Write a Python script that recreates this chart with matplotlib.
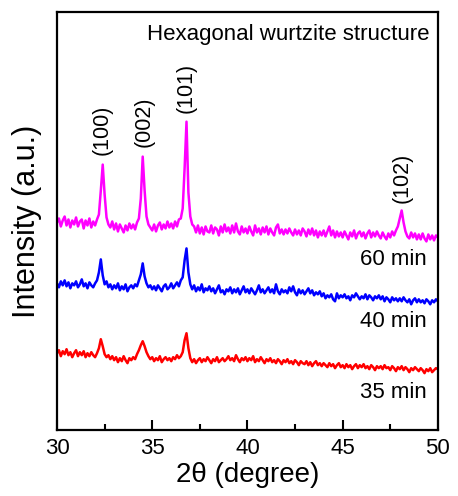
import numpy as np
import matplotlib
matplotlib.use("Agg")
import matplotlib.pyplot as plt
from matplotlib.ticker import MultipleLocator

plt.rcParams['font.family'] = ['Liberation Sans', 'DejaVu Sans']

two_theta = np.linspace(30, 50, 201)

int_60 = [
    208, 212, 204, 210, 214, 205, 211, 203, 210, 206,
    213, 204, 209, 211, 202, 210, 205, 212, 203, 209,
    205, 211, 216, 240, 266, 236, 213, 206, 203, 209,
    201, 207, 199, 206, 202, 198, 205, 200, 207, 202,
    206, 201, 208, 212, 232, 274, 240, 214, 206, 203,
    200, 206, 199, 205, 208, 201, 206, 202, 209, 203,
    207, 202, 209, 204, 211, 212, 222, 262, 309, 238,
    214, 206, 204, 198, 205, 197, 203, 196, 204, 199,
    198, 205, 197, 203, 201, 195, 204, 198, 206, 199,
    203, 197, 205, 198, 207, 199, 196, 204, 198, 202,
    197, 204, 199, 195, 205, 198, 202, 196, 203, 198,
    204, 196, 202, 198, 195, 203, 206, 197, 201, 196,
    201, 197, 202, 198, 195, 201, 196, 200, 195, 202,
    199, 194, 201, 196, 202, 195, 200, 193, 199, 195,
    200, 194, 199, 204, 195, 200, 193, 199, 194, 198,
    193, 199, 195, 191, 198, 194, 200, 192, 197, 199,
    194, 198, 192, 197, 200, 193, 198, 194, 199, 195,
    192, 198, 194, 191, 197, 193, 199, 195, 200, 204,
    212, 220, 208, 199, 194, 192, 198, 193, 197, 191,
    196, 191, 197, 192, 189, 196, 191, 195, 190, 195,
    193,
]

int_40 = [
    147, 143, 149, 145, 150, 144, 148, 142, 147, 145,
    149, 143, 146, 151, 144, 147, 142, 148, 145, 143,
    147, 150, 158, 171, 155, 146, 149, 143, 146, 141,
    145, 142, 147, 140, 144, 141, 146, 139, 143, 145,
    142, 146, 144, 150, 156, 167, 154, 147, 143, 145,
    141, 144, 140, 145, 142, 139, 144, 146, 141, 143,
    147, 142, 145, 148, 144, 150, 153, 170, 182, 158,
    146, 141, 145, 139, 143, 140, 146, 138, 142, 140,
    144, 139, 142, 137, 141, 145, 138, 140, 136, 141,
    139, 143, 137, 141, 138, 142, 136, 140, 144, 138,
    141, 137, 142, 139, 136, 140, 145, 138, 141, 137,
    140, 143, 138, 141, 137, 146, 139, 136, 141, 138,
    140, 137, 143, 139, 144, 138, 135, 141, 137, 140,
    136, 139, 142, 137, 140, 135, 138, 136, 139, 134,
    137, 132, 135, 133, 136, 131, 129, 137, 132, 135,
    133, 136, 132, 134, 130, 135, 133, 137, 134, 131,
    134, 132, 136, 131, 135, 133, 130, 134, 132, 135,
    131, 134, 129, 133, 131, 128, 133, 130, 132, 129,
    132, 129, 133, 130, 128, 131, 126, 130, 132, 128,
    131, 128, 130, 127, 131, 129, 126, 130, 128, 131,
    129,
]

int_35 = [
    77, 80, 74, 79, 76, 81, 75, 78, 73, 77,
    80, 74, 78, 75, 79, 73, 77, 74, 78, 75,
    73, 77, 82, 91, 84, 76, 73, 75, 71, 74,
    70, 73, 68, 72, 69, 74, 70, 67, 72, 70,
    73, 71, 76, 80, 85, 89, 84, 78, 74, 71,
    73, 69, 72, 70, 74, 68, 71, 73, 70, 72,
    69, 73, 71, 75, 72, 74, 78, 90, 97, 82,
    72, 68, 71, 67, 70, 72, 68, 71, 69, 73,
    70, 67, 71, 69, 73, 68, 70, 72, 69, 71,
    74, 70, 72, 69, 75, 71, 68, 72, 70, 73,
    69, 72, 70, 74, 68, 71, 69, 73, 70, 67,
    71, 69, 72, 68, 70, 67, 71, 69, 66, 70,
    68, 71, 67, 69, 66, 70, 68, 65, 69, 67,
    66, 69, 65, 68, 64, 67, 69, 65, 67, 64,
    67, 65, 63, 67, 64, 66, 62, 65, 67, 63,
    65, 62, 66, 63, 65, 61, 64, 66, 62, 65,
    63, 66, 62, 64, 61, 65, 63, 60, 64, 62,
    64, 61, 65, 62, 63, 60, 64, 62, 59, 63,
    61, 64, 60, 63, 61, 58, 62, 60, 63, 61,
    59, 62, 60, 57, 61, 59, 62, 58, 60, 62,
    61,
]

peak_labels = ['(100)', '(002)', '(101)', '(102)']
peak_pos = [32.35, 34.6, 36.8, 48.1]
peak_label_y = [276, 284, 318, 228]

series_labels = ['60 min', '40 min', '35 min']
series_label_y = [171, 109, 38]
colors = ['#ff00ff', '#0000ff', '#ff0000']

fig = plt.figure(figsize=(4.58, 4.96), dpi=100)
ax = fig.add_axes([0.1245, 0.133, 0.8315, 0.843])

for y, c in zip([int_60, int_40, int_35], colors):
    ax.plot(two_theta, y, color=c, lw=1.8)

for lab, xp, yp in zip(peak_labels, peak_pos, peak_label_y):
    ax.text(xp, yp, lab, rotation=90, ha='center', va='bottom', fontsize=15.5)

for lab, yp in zip(series_labels, series_label_y):
    ax.text(49.4, yp, lab, ha='right', va='center', fontsize=16)

ax.text(49.55, 396, 'Hexagonal wurtzite structure', ha='right', va='center', fontsize=16)

ax.set_xlim(30, 50)
ax.set_ylim(0, 419)
ax.set_yticks([])
ax.xaxis.set_major_locator(MultipleLocator(5))
ax.xaxis.set_minor_locator(MultipleLocator(2.5))
ax.tick_params(axis='x', which='major', direction='in', length=7, width=1.5, labelsize=16, pad=6)
ax.tick_params(axis='x', which='minor', direction='in', length=4, width=1.5)
for s in ax.spines.values():
    s.set_linewidth(1.6)

ax.set_xlabel('2\u03b8 (degree)', fontsize=20, labelpad=2)
ax.set_ylabel('Intensity (a.u.)', fontsize=22, labelpad=11)

fig.savefig('out.png', dpi=100)
